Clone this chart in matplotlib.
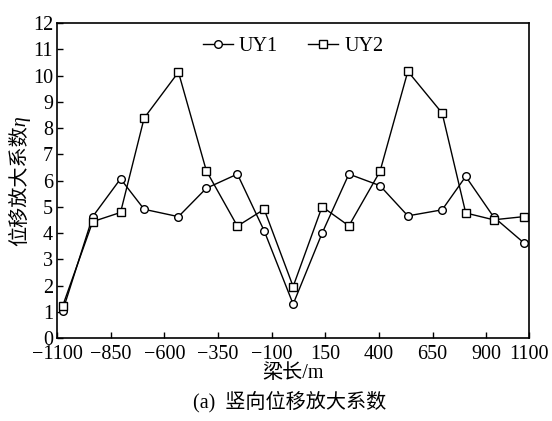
import matplotlib.pyplot as plt

plt.rcParams['font.family'] = ['Liberation Serif', 'Noto Sans CJK SC']
plt.rcParams['axes.unicode_minus'] = True

# positions along the beam (m)
x_pos = [-1075, -935, -805, -695, -535, -405, -260, -135, 0,
         135, 260, 405, 535, 695, 805, 935, 1075]
uy1 = [1.04, 4.63, 6.07, 4.91, 4.63, 5.71, 6.25, 4.09, 1.30,
       4.00, 6.25, 5.81, 4.66, 4.89, 6.16, 4.62, 3.64]
uy2 = [1.23, 4.44, 4.79, 8.38, 10.13, 6.38, 4.27, 4.91, 1.97,
       5.01, 4.28, 6.35, 10.16, 8.57, 4.77, 4.51, 4.63]
x_ticks = [-1100, -850, -600, -350, -100, 150, 400, 650, 900, 1100]

fig = plt.figure(figsize=(5.52, 4.21), dpi=100)
ax = fig.add_axes([0.1038, 0.1964, 0.8545, 0.749])

ax.plot(x_pos, uy1, color='black', lw=1.0, marker='o', ms=5.5,
        mfc='white', mec='black', mew=1.0, label='UY1')
ax.plot(x_pos, uy2, color='black', lw=1.0, marker='s', ms=5.5,
        mfc='white', mec='black', mew=1.0, label='UY2')

ax.set_xlim(-1100, 1100)
ax.set_ylim(0, 12)
ax.set_xticks(x_ticks)
ax.set_yticks(range(0, 13))
ax.tick_params(direction='in', labelsize=14.5, length=4, width=1)
ax.tick_params(axis='x', pad=5)
ax.tick_params(axis='y', pad=3)
for s in ax.spines.values():
    s.set_linewidth(1.2)

ax.set_xlabel('梁长/m', fontsize=14.5, labelpad=0)
# italic style only changes the eta; the CJK face has no italic
ax.set_ylabel('位移放大系数η', fontsize=14.5, labelpad=2, style='italic')

ax.legend(loc='upper center', ncol=2, frameon=False, fontsize=14.5,
          handlelength=1.5, handletextpad=0.3, columnspacing=1.5,
          borderaxespad=0.3)

fig.text(0.525, 0.047, '(a)  竖向位移放大系数', ha='center', va='center',
         fontsize=14.5)

fig.savefig('out.png', dpi=100)
